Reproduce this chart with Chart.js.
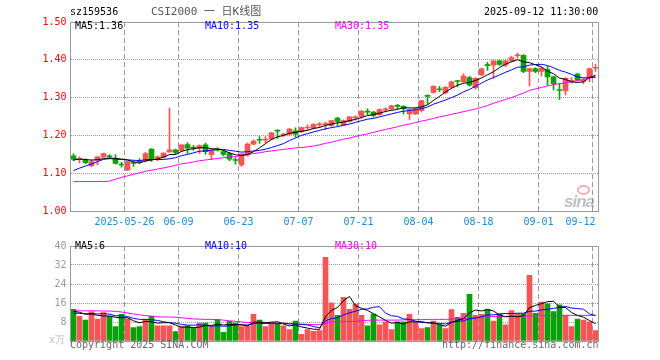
<!DOCTYPE html>
<html>
<head>
<meta charset="utf-8">
<script src="https://cdn.jsdelivr.net/npm/chart.js@4/dist/chart.umd.min.js"></script>
<style>
  body { margin: 0; background: #fff; }
  #wrap { position: relative; width: 660px; height: 360px; overflow: hidden; }
  canvas { position: absolute; left: 0; }
  .t { position: absolute; font: 10px 'DejaVu Sans Mono', monospace; line-height: 12px; white-space: pre; }
</style>
</head>
<body>
<div id="wrap">
  <canvas id="kline" width="660" height="236" style="top:0"></canvas>
  <canvas id="vol" width="660" height="124" style="top:236px"></canvas>

  <div class="t" style="left:70px;top:6px;color:#000">sz159536</div>
  <div class="t" style="left:151px;top:5px;font-size:11px;line-height:14px;color:#555;font-family:'DejaVu Sans Mono','Noto Sans CJK SC',monospace">CSI2000 一 日K线图</div>
  <div class="t" style="left:484px;top:6px;color:#000">2025-09-12 11:30:00</div>

  <div class="t" style="left:75px;top:20px;color:#000">MA5:1.36</div>
  <div class="t" style="left:205px;top:20px;color:#0000ff">MA10:1.35</div>
  <div class="t" style="left:335px;top:20px;color:#ff00ff">MA30:1.35</div>

  <div class="t" style="left:75px;top:240px;color:#000">MA5:6</div>
  <div class="t" style="left:205px;top:240px;color:#0000ff">MA10:10</div>
  <div class="t" style="left:335px;top:240px;color:#ff00ff">MA30:10</div>

  <div class="t" style="left:49px;top:334px;color:#bbb">x万</div>
  <div class="t" style="left:70px;top:339px;color:#666">Copyright 2025 SINA.COM</div>
  <div class="t" style="left:442px;top:339px;color:#666">http://finance.sina.com.cn</div>

  <!-- 新浪水印 -->
  <div style="position:absolute;left:577px;top:185px;width:9px;height:6px;border:2px solid rgba(235,110,110,0.55);border-radius:50%"></div>
  <div class="t" style="left:564px;top:192px;font:italic bold 17px 'Liberation Sans',sans-serif;color:rgba(140,140,140,0.55);letter-spacing:-1px">sina</div>
</div>

<script>
// 交易日
const dates = [
  '05-13','05-14','05-15','05-16','05-19','05-20','05-21','05-22','05-23','05-26','05-27','05-28','05-29','05-30',
  '06-03','06-04','06-05','06-06','06-09','06-10','06-11','06-12','06-13','06-16','06-17','06-18','06-19','06-20',
  '06-23','06-24','06-25','06-26','06-27','06-30',
  '07-01','07-02','07-03','07-04','07-07','07-08','07-09','07-10','07-11','07-14','07-15','07-16','07-17','07-18',
  '07-21','07-22','07-23','07-24','07-25','07-28','07-29','07-30','07-31',
  '08-01','08-04','08-05','08-06','08-07','08-08','08-11','08-12','08-13','08-14','08-15','08-18','08-19','08-20',
  '08-21','08-22','08-25','08-26','08-27','08-28','08-29',
  '09-01','09-02','09-03','09-04','09-05','09-08','09-09','09-10','09-11','09-12'
];

// 横轴刻度
const tickDates = ['05-26','06-09','06-23','07-07','07-21','08-04','08-18','09-01','09-12'];
const tickLabels = ['2025-05-26','06-09','06-23','07-07','07-21','08-04','08-18','09-01','09-12    '];

// K线 (开 收 高 低)
const opens = [
  1.146,1.137,1.135,1.120,1.134,1.143,1.145,1.138,1.124,1.108,
  1.128,1.133,1.133,1.164,1.139,1.142,1.156,1.162,1.160,1.176,
  1.168,1.166,1.175,1.149,1.163,1.157,1.152,1.136,1.122,1.148,
  1.177,1.189,1.188,1.190,1.214,1.201,1.203,1.212,1.210,1.220,
  1.219,1.228,1.229,1.226,1.246,1.227,1.237,1.247,1.250,1.264,
  1.262,1.255,1.268,1.270,1.279,1.277,1.257,1.257,1.266,1.306,
  1.314,1.323,1.313,1.327,1.345,1.342,1.353,1.326,1.360,1.387,
  1.386,1.397,1.386,1.397,1.411,1.412,1.369,1.377,1.369,1.375,
  1.355,1.321,1.318,1.343,1.362,1.344,1.355,1.378
];
const closes = [
  1.137,1.139,1.128,1.131,1.143,1.152,1.144,1.126,1.122,1.131,
  1.126,1.130,1.152,1.136,1.143,1.153,1.162,1.155,1.175,1.166,
  1.167,1.173,1.157,1.161,1.162,1.150,1.137,1.134,1.151,1.177,
  1.185,1.188,1.190,1.207,1.211,1.203,1.217,1.203,1.221,1.222,
  1.229,1.230,1.231,1.239,1.237,1.239,1.249,1.248,1.264,1.262,
  1.253,1.268,1.270,1.278,1.277,1.271,1.268,1.270,1.292,1.303,
  1.330,1.321,1.327,1.342,1.343,1.357,1.333,1.351,1.376,1.385,
  1.397,1.388,1.397,1.406,1.413,1.369,1.377,1.369,1.378,1.355,
  1.337,1.319,1.351,1.346,1.347,1.346,1.377,1.380
];
const highs = [
  1.151,1.143,1.138,1.135,1.144,1.153,1.149,1.149,1.129,1.131,
  1.132,1.139,1.155,1.165,1.146,1.154,1.272,1.164,1.176,1.181,
  1.173,1.175,1.180,1.162,1.167,1.160,1.155,1.141,1.152,1.180,
  1.188,1.197,1.197,1.208,1.215,1.206,1.219,1.220,1.222,1.228,
  1.231,1.234,1.235,1.240,1.248,1.241,1.250,1.252,1.266,1.270,
  1.264,1.270,1.273,1.280,1.282,1.279,1.270,1.272,1.293,1.307,
  1.332,1.330,1.329,1.344,1.346,1.363,1.356,1.353,1.378,1.393,
  1.398,1.399,1.399,1.410,1.418,1.414,1.378,1.379,1.380,1.383,
  1.357,1.338,1.353,1.352,1.365,1.350,1.378,1.389
];
const lows = [
  1.133,1.127,1.125,1.117,1.122,1.142,1.140,1.124,1.116,1.107,
  1.118,1.126,1.130,1.131,1.133,1.140,1.155,1.150,1.157,1.152,
  1.160,1.152,1.150,1.136,1.158,1.146,1.133,1.124,1.118,1.145,
  1.175,1.179,1.180,1.188,1.192,1.197,1.200,1.195,1.207,1.214,
  1.217,1.221,1.215,1.224,1.225,1.225,1.235,1.240,1.245,1.255,
  1.248,1.253,1.262,1.268,1.270,1.257,1.242,1.255,1.262,1.282,
  1.312,1.316,1.310,1.325,1.328,1.340,1.330,1.322,1.358,1.372,
  1.351,1.385,1.382,1.395,1.404,1.366,1.331,1.366,1.357,1.333,
  1.320,1.295,1.307,1.338,1.344,1.337,1.342,1.369
];
// 窗口之前的收盘价 (由均线起点估计)
const prevCloses = [1.075,1.072,1.078,1.082,1.088,1.128,1.133,1.138,1.139];

// 30日均线
const ma30 = [
  1.078,1.078,1.078,1.078,1.078,1.078,1.079,1.084,1.089,1.093,
  1.097,1.101,1.105,1.108,1.111,1.114,1.117,1.121,1.125,1.127,
  1.130,1.133,1.135,1.137,1.139,1.141,1.143,1.144,1.147,1.150,
  1.152,1.154,1.157,1.159,1.161,1.163,1.165,1.167,1.168,1.170,
  1.172,1.175,1.179,1.182,1.186,1.190,1.193,1.197,1.201,1.204,
  1.208,1.212,1.216,1.219,1.223,1.227,1.230,1.234,1.238,1.241,
  1.245,1.249,1.252,1.256,1.259,1.263,1.266,1.270,1.274,1.279,
  1.285,1.290,1.295,1.300,1.306,1.312,1.319,1.323,1.327,1.331,
  1.334,1.337,1.339,1.342,1.345,1.348,1.352,1.356
];

// 成交量 (万)
const volumes = [
  13.3,10.4,8.8,12.3,9.2,12.0,10.4,6.1,11.2,9.3,
  5.6,6.1,9.1,10.4,6.4,6.4,6.4,4.0,6.1,6.4,
  5.3,7.5,7.5,6.1,9.1,3.6,8.3,7.5,6.1,6.4,
  11.2,8.8,6.1,7.2,7.2,6.4,4.8,8.4,2.8,4.8,
  4.1,4.4,35.2,16.1,10.8,18.4,13.3,15.5,10.8,6.4,
  11.3,6.8,8.1,4.8,8.1,8.1,11.2,8.1,5.2,5.6,
  8.4,6.8,5.2,13.2,10.0,11.6,19.6,10.8,11.2,13.2,
  8.4,11.2,6.8,12.8,11.5,11.5,27.6,11.6,16.4,15.6,
  12.4,15.2,10.8,6.1,9.2,8.8,8.1,4.4
];
const prevVolumes = [11.0,10.5,11.5,10.8,10.7,12.5,13.0,11.5,12.2];
const volMa30 = [
  12.7,12.7,12.7,12.7,12.7,12.6,12.6,12.5,12.2,11.8,
  11.4,11.0,10.7,10.5,10.2,10.1,10.1,10.0,9.8,9.5,
  9.3,9.2,9.1,9.1,9.0,8.8,8.5,8.3,8.0,7.8,
  7.7,7.7,7.6,7.6,7.6,7.5,7.3,7.2,7.1,7.0,
  6.9,6.9,7.6,8.0,8.0,8.1,8.2,8.3,8.5,8.7,
  8.8,8.8,8.8,8.8,8.8,8.9,9.0,9.0,9.0,9.1,
  9.1,9.1,9.1,9.2,9.3,9.4,9.7,9.8,10.0,10.2,
  10.3,10.4,10.4,10.4,10.4,10.4,10.6,10.6,10.7,10.7,
  10.7,10.8,10.8,10.8,10.8,10.8,10.8,10.8
];

const UP = '#f65555';
const DOWN = '#08a108';
const GRID = '#999';

// 移动平均
function movingAvg(values, prev, n) {
    const all = prev.concat(values);
    return values.map((v, i) => {
        const end = prev.length + i;
        const part = all.slice(Math.max(0, end - n + 1), end + 1);
        return part.reduce((a, b) => a + b, 0) / part.length;
    });
}

// 实体至少 1px
function bodyRange(o, c) {
    if (Math.abs(o - c) < 0.0026) {
        const m = (o + c) / 2;
        return [m - 0.0013, m + 0.0013];
    }
    return [Math.min(o, c), Math.max(o, c)];
}

const candleColors = closes.map((c, i) => c >= opens[i] ? UP : DOWN);
const tickIdx = tickDates.map(d => dates.indexOf(d));
// 每个刻度的竖线颜色, 只在有日期标签处显示
const xGridColors = dates.map((d, i) => tickIdx.includes(i) ? GRID : 'rgba(0,0,0,0)').concat(['rgba(0,0,0,0)']);

function xLabel(i) {
    const k = tickDates.indexOf(dates[i]);
    return k >= 0 ? tickLabels[k] : '';
}

// 日期竖虚线 + 外框
const framePlugin = {
    id: 'frame',
    beforeDatasetsDraw(chart) {
        const a = chart.chartArea;
        const xs = chart.scales.x;
        const half = (xs.getPixelForValue(1) - xs.getPixelForValue(0)) / 2;
        const ctx = chart.ctx;
        ctx.save();
        ctx.strokeStyle = GRID;
        ctx.lineWidth = 1;
        ctx.setLineDash([5, 3]);
        tickIdx.forEach(i => {
            const x = Math.floor(xs.getPixelForValue(i) - half) + 0.5;
            ctx.beginPath();
            ctx.moveTo(x, a.top);
            ctx.lineTo(x, a.bottom);
            ctx.stroke();
        });
        ctx.restore();
    },
    afterDraw(chart) {
        const a = chart.chartArea;
        const ctx = chart.ctx;
        ctx.save();
        ctx.fillStyle = GRID;
        const l = Math.floor(a.left), t = Math.floor(a.top);
        const r = Math.floor(a.right), b = Math.floor(a.bottom);
        ctx.fillRect(l, t, r - l + 1, 1);
        ctx.fillRect(l, b, r - l + 1, 1);
        ctx.fillRect(l, t, 1, b - t + 1);
        ctx.fillRect(r, t, 1, b - t + 1);
        ctx.restore();
    }
};

Chart.defaults.font.family = "'DejaVu Sans Mono', monospace";
Chart.defaults.font.size = 10;

function lineSet(data, color) {
    return { type: 'line', data, borderColor: color, borderWidth: 1, pointRadius: 0, tension: 0, order: 0 };
}

// 两个面板用同一套横轴设置, 成交量面板不写日期
function xScale(height, showLabels) {
    return {
        offset: true,
        grid: { offset: true, drawTicks: false, lineWidth: 1, color: xGridColors },
        border: { display: false, dash: [5, 3] },
        ticks: {
            autoSkip: false,
            maxRotation: 0,
            minRotation: 0,
            color: '#1a8cd8',
            padding: 5,
            labelOffset: -3,
            callback: (v, i) => showLabels ? xLabel(i) : ''
        },
        afterFit: s => { s.height = height; }
    };
}

function initKline() {
    return new Chart(document.getElementById('kline'), {
        type: 'bar',
        data: {
            labels: dates,
            datasets: [
                lineSet(movingAvg(closes, prevCloses, 5), '#000000'),
                lineSet(movingAvg(closes, prevCloses, 10), '#0000ff'),
                lineSet(ma30, '#ff00ff'),
                {
                    data: lows.map((l, i) => [l, highs[i]]),
                    backgroundColor: candleColors,
                    barThickness: 1,
                    grouped: false,
                    order: 2
                },
                {
                    data: opens.map((o, i) => bodyRange(o, closes[i])),
                    backgroundColor: candleColors,
                    barThickness: 5,
                    grouped: false,
                    order: 1
                }
            ]
        },
        options: {
            responsive: false,
            animation: false,
            devicePixelRatio: 1,
            layout: { padding: { top: 22, right: 61.5, bottom: 0, left: 0 } },
            plugins: { legend: { display: false }, tooltip: { enabled: false } },
            scales: {
                x: xScale(25, true),
                y: {
                    min: 1.0,
                    max: 1.5,
                    ticks: { stepSize: 0.1, color: '#ff0000', padding: 4, callback: v => v.toFixed(2) },
                    grid: {
                        drawTicks: false,
                        color: ctx => (ctx.tick && ctx.tick.value > 1.001 && ctx.tick.value < 1.499) ? GRID : 'rgba(0,0,0,0)'
                    },
                    border: { display: false, dash: [1, 1] },
                    afterFit: s => { s.width = 70.5; }
                }
            }
        },
        plugins: [framePlugin]
    });
}

function initVolume() {
    return new Chart(document.getElementById('vol'), {
        type: 'bar',
        data: {
            labels: dates,
            datasets: [
                lineSet(movingAvg(volumes, prevVolumes, 5), '#000000'),
                lineSet(movingAvg(volumes, prevVolumes, 10), '#0000ff'),
                lineSet(volMa30, '#ff00ff'),
                {
                    data: volumes,
                    backgroundColor: candleColors,
                    barThickness: 5,
                    grouped: false,
                    order: 1
                }
            ]
        },
        options: {
            responsive: false,
            animation: false,
            devicePixelRatio: 1,
            layout: { padding: { top: 5, right: 61.5, bottom: 0, left: 0 } },
            plugins: { legend: { display: false }, tooltip: { enabled: false } },
            scales: {
                x: xScale(19, false),
                y: {
                    min: 0,
                    max: 40,
                    ticks: { stepSize: 8, color: '#999', padding: 4, callback: v => v === 0 ? '' : v },
                    grid: {
                        drawTicks: false,
                        color: ctx => (ctx.tick && ctx.tick.value > 0 && ctx.tick.value < 40) ? GRID : 'rgba(0,0,0,0)'
                    },
                    border: { display: false, dash: [1, 1] },
                    afterFit: s => { s.width = 70.5; }
                }
            }
        },
        plugins: [framePlugin]
    });
}

initKline();
initVolume();
</script>
</body>
</html>
